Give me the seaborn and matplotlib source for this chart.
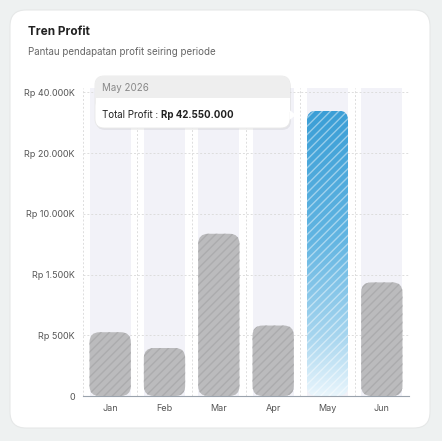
import numpy as np
import pandas as pd
import matplotlib
matplotlib.use("Agg")
import matplotlib.pyplot as plt
import seaborn as sns
from matplotlib.patches import FancyBboxPatch, Rectangle, Polygon

months = ["Jan", "Feb", "Mar", "Apr", "May", "Jun"]
profit = [550_000, 395_000, 7_200_000, 660_000, 34_000_000, 1_370_000]
tick_values = [0, 500_000, 1_500_000, 10_000_000, 20_000_000, 40_000_000]
tick_labels = ["0", "Rp 500K", "Rp 1.500K", "Rp 10.000K", "Rp 20.000K", "Rp 40.000K"]
highlight = "May"

idx = np.arange(len(tick_values), dtype=float)
tv = np.array(tick_values, dtype=float)
def fwd(v):
    v = np.asarray(v, dtype=float)
    return np.where(v > tv[-1], idx[-1] + (v - tv[-1]) / 20_000_000, np.interp(v, tv, idx))
def inv(u):
    u = np.asarray(u, dtype=float)
    return np.where(u > idx[-1], tv[-1] + (u - idx[-1]) * 20_000_000, np.interp(u, idx, tv))

W, H = 442, 441
fig = plt.figure(figsize=(W/100, H/100), dpi=100)
fig.patch.set_facecolor("#eef1f1")

card = FancyBboxPatch((10, H-428), 420, 418, boxstyle="round,pad=0,rounding_size=16",
                      transform=None, facecolor="white", edgecolor="#e6e8e8", lw=0.8, zorder=-5)
fig.patches.append(card)
fig.text(28/W, 1-32/H, "Tren Profit", fontsize=8.5, fontweight="bold", color="#222", va="center", family="Inter")
fig.text(28/W, 1-52/H, "Pantau pendapatan profit seiring periode", fontsize=7, color="#666", va="center", family="Inter")

ax = fig.add_axes([83/W, 45/H, 326/W, 308/H])
ax.set_zorder(1)
ax.set_facecolor("none")
ax.set_yscale("function", functions=(fwd, inv))
df = pd.DataFrame({"month": months, "profit": profit})
sns.barplot(data=df, x="month", y="profit", ax=ax, width=0.76, color="#b9b9bb", zorder=3)
YMAX = float(inv(5.07))
ax.set_xlim(-0.5, 5.5)
ax.set_ylim(0, YMAX)
ax.set_yticks(tick_values)
ax.set_yticklabels(tick_labels)
ax.yaxis.set_minor_locator(matplotlib.ticker.NullLocator())
ax.tick_params(axis="both", length=0, labelsize=6.5, labelcolor="#555", pad=6)
for lab in ax.get_xticklabels() + ax.get_yticklabels():
    lab.set_family("Inter")
ax.set_xlabel(""); ax.set_ylabel("")
for s in ["top", "right", "left"]:
    ax.spines[s].set_visible(False)
ax.spines["bottom"].set_color("#9aa3ad")
ax.spines["bottom"].set_zorder(6)
for t in tick_values[1:]:
    ax.axhline(t, color="#dddddd", lw=0.7, ls=(0, (2, 2)), zorder=1)
for xb in np.arange(-0.5, 6, 1):
    ax.axvline(xb, color="#dddddd", lw=0.7, ls=(0, (2, 2)), zorder=1)
for i in range(len(months)):
    ax.axvspan(i-0.38, i+0.38, color="#f2f2f8", zorder=0.5, lw=0)

fig.canvas.draw()
for p, m in zip(list(ax.patches), months):
    bb = p.get_window_extent()
    p.remove()
    box = dict(boxstyle="round,pad=0,rounding_size=10", transform=None)
    if m == highlight:
        rp = FancyBboxPatch((bb.x0, bb.y0), bb.width, bb.height, facecolor="none", edgecolor="none", **box)
        ext = ax.transData.inverted().transform([[bb.x0, bb.y0], [bb.x1, bb.y1]])
        vb, vt = ext[0, 1], ext[1, 1]
        vals = np.linspace(vt, vb, 4096)
        f = (fwd(vt) - fwd(vals)) / (fwd(vt) - fwd(vb))  # 0 at top, 1 at bottom (display space)
        grad = f[:, None]
        cmap = matplotlib.colors.LinearSegmentedColormap.from_list(
            "g", [(0, "#3a9ed6"), (0.45, "#62b5e2"), (0.8, "#a8d6ef"), (1, "#e8f5fc")])
        img = ax.imshow(grad, cmap=cmap, aspect="auto", vmin=0, vmax=1,
                        extent=[ext[0, 0], ext[1, 0], vb, vt], origin="upper", zorder=3)
        img.set_clip_path(rp)
        ax.set_xlim(-0.5, 5.5); ax.set_ylim(0, YMAX)
        hp = FancyBboxPatch((bb.x0, bb.y0), bb.width, bb.height, facecolor="none",
                            edgecolor=(1, 1, 1, 0.45), lw=0, hatch="////", zorder=4, **box)
        fig.patches.append(hp)
    else:
        rp = FancyBboxPatch((bb.x0, bb.y0), bb.width, bb.height, facecolor="#bbbbbd",
                            edgecolor="#acacae", lw=0, hatch="////", zorder=3, **box)
        fig.patches.append(rp)

# tooltip
x0, y0, x1, y1 = 95, 76, 290, 128
sh = FancyBboxPatch((x0+1, H-y1-2), x1-x0, y1-y0, boxstyle="round,pad=0,rounding_size=9", transform=None,
                    facecolor=(0, 0, 0, 0.06), edgecolor="none", zorder=10)
fig.patches.append(sh)
tb = FancyBboxPatch((x0, H-y1), x1-x0, y1-y0, boxstyle="round,pad=0,rounding_size=9", transform=None,
                    facecolor="white", edgecolor="#e8e8e8", lw=0.6, zorder=11)
fig.patches.append(tb)
hd = FancyBboxPatch((x0, H-110), x1-x0, 34, boxstyle="round,pad=0,rounding_size=9", transform=None,
                    facecolor="#eeeeee", edgecolor="none", zorder=12)
fig.patches.append(hd)
fig.patches.append(Rectangle((x0+0.5, H-112), x1-x0-1, 14, transform=None, facecolor="white", edgecolor="none", zorder=13))
fig.patches.append(Polygon([(x1-0.5, H-110), (x1+6, H-115), (x1-0.5, H-120)], transform=None,
                           facecolor="white", edgecolor="none", zorder=13))
fig.text(102/W, 1-88/H, "May 2026", fontsize=7, color="#888", va="center", family="Inter", zorder=14)
t1 = fig.text(102/W, 1-115/H, "Total Profit : ", fontsize=7, color="#222", va="center", family="Inter", zorder=14)
fig.canvas.draw()
e = t1.get_window_extent()
fig.text(e.x1/W, 1-115/H, "Rp 42.550.000", fontsize=7, fontweight="bold", color="#222", va="center", family="Inter", zorder=14)

fig.savefig("out.png", dpi=100, facecolor=fig.get_facecolor())
